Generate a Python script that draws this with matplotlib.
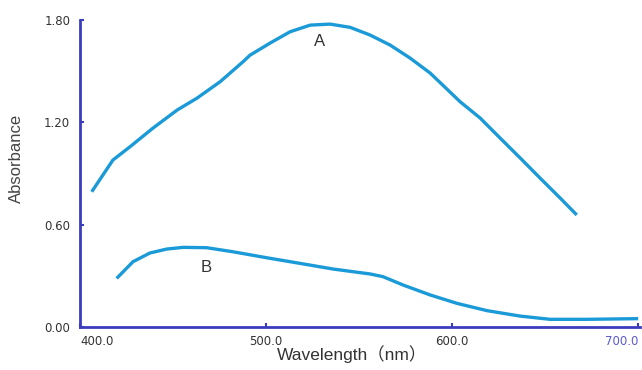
import matplotlib.pyplot as plt

# curve A (wavelength nm, absorbance)
wl_a = [406.3, 417.7, 426.9, 439.2, 452.2, 462.9, 475.3, 487.6, 491.4, 502.2, 512.9, 523.7,
        534.4, 545.2, 555.9, 566.7, 577.4, 588.2, 597.8, 604.3, 615.1, 625.8, 636.6, 647.3,
        658.1, 667.0]
abs_a = [0.793, 0.979, 1.057, 1.166, 1.272, 1.342, 1.438, 1.555, 1.594, 1.665, 1.731, 1.770,
         1.776, 1.757, 1.712, 1.653, 1.577, 1.489, 1.389, 1.321, 1.225, 1.108, 0.991, 0.873,
         0.756, 0.657]

# curve B
wl_b = [419.7, 428.5, 437.6, 446.6, 455.4, 468.1, 482.3, 500.4, 518.3, 536.0, 555.9, 562.9,
        573.7, 588.2, 602.5, 618.7, 636.6, 652.7, 672.4, 700.0]
abs_b = [0.285, 0.383, 0.434, 0.457, 0.467, 0.465, 0.441, 0.406, 0.373, 0.340, 0.311, 0.295,
         0.246, 0.188, 0.139, 0.096, 0.064, 0.045, 0.045, 0.049]

xticks = [400, 500, 600, 700]
yticks = [0.0, 0.6, 1.2, 1.8]

line_col = "#1b9ad8"
axis_col = "#3c3cc0"

fig = plt.figure(figsize=(6.42, 3.70), dpi=100)
ax = fig.add_axes([0.1246, 0.1162, 0.8723, 0.8297])

ax.plot(wl_a, abs_a, color=line_col, lw=2.4, solid_capstyle="butt", solid_joinstyle="round")
ax.plot(wl_b, abs_b, color=line_col, lw=2.4, solid_capstyle="butt", solid_joinstyle="round")

ax.text(529, 1.672, "A", fontsize=12, color="#333333", ha="center", va="center", family="Liberation Sans")
ax.text(468, 0.348, "B", fontsize=12, color="#333333", ha="center", va="center", family="Liberation Sans")

ax.set_xlim(400, 701)
ax.set_ylim(0, 1.8)
ax.set_xticks(xticks)
ax.set_xticklabels([f"{v:.1f}" for v in xticks], fontsize=8.5, color="#333333")
ax.set_yticks(yticks)
ax.set_yticklabels([f"{v:.2f}" for v in yticks], fontsize=8.5, color="#333333")
ax.get_xticklabels()[0].set_ha("left")
ax.get_xticklabels()[-1].set_ha("right")
ax.get_xticklabels()[-1].set_color("#5a5ad0")

ax.tick_params(direction="in", length=3, width=1.5, color=axis_col)
ax.tick_params(axis="x", pad=6)
ax.tick_params(axis="y", pad=7)

for s in ["top", "right"]:
    ax.spines[s].set_visible(False)
for s in ["left", "bottom"]:
    ax.spines[s].set_color(axis_col)
    ax.spines[s].set_linewidth(2)

ax.set_ylabel("Absorbance", fontsize=12, color="#444444", family="Liberation Sans")
ax.yaxis.set_label_coords(-0.1, 0.55)
ax.set_xlabel("Wavelength（nm）", fontsize=12.5, color="#333333",
              family=["Liberation Sans", "Noto Sans CJK SC"])
ax.xaxis.set_label_coords(0.486, -0.06)

fig.savefig("out.png", dpi=100, facecolor="white")
